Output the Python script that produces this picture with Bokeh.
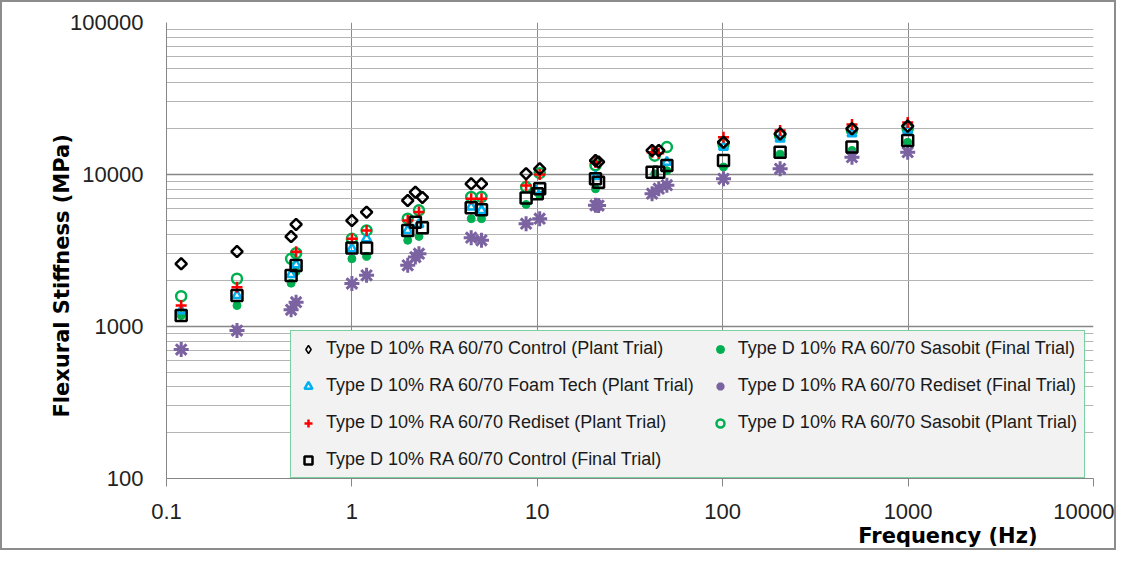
import math
from bokeh.plotting import figure
from bokeh.models import (Range1d, FixedTicker, CustomJSTickFormatter, Legend,
                          LegendItem, Title)
from bokeh.embed import file_html
from bokeh.resources import INLINE

# ---------------- data ----------------
ctrl_plant_f = [0.12, 0.24, 0.47, 0.50, 1.0, 1.2, 2.0, 2.2, 2.4, 4.4, 5.0, 8.7, 10.3,
                20.6, 21.4, 41.6, 45.2, 101, 204, 498, 995]
ctrl_plant_s = [2585, 3113, 3908, 4690, 4980, 5650, 6745, 7650, 7060, 8690, 8690, 10120, 10900,
                12360, 12100, 14390, 14390, 16300, 18500, 20000, 20800]

foam_plant_f = [0.12, 0.24, 0.47, 0.50, 1.0, 1.2, 2.0, 2.3, 4.4, 5.0, 9.8, 20.6, 50, 101, 204, 498, 995]
foam_plant_s = [1270, 1600, 2200, 2550, 3250, 3785, 4285, 4700, 6110, 5810, 7850, 9700, 12060,
                15140, 17170, 18540, 19500]

redi_plant_f = [0.12, 0.24, 0.50, 1.0, 1.2, 2.0, 2.3, 4.4, 5.0, 8.7, 10.3, 20.6, 41.6, 45.2,
                101, 204, 498, 995]
redi_plant_s = [1374, 1815, 3100, 3785, 4285, 4990, 5660, 6930, 6930, 8470, 10000, 12000, 14000,
                13800, 17600, 19470, 21300, 22000]

ctrl_final_f = [0.12, 0.24, 0.47, 0.50, 1.0, 1.2, 2.0, 2.2, 2.4, 4.4, 5.0, 8.7, 10.0, 10.3,
                20.6, 21.4, 41.6, 45.2, 50, 101, 204, 498, 995]
ctrl_final_s = [1181, 1600, 2166, 2519, 3280, 3290, 4285, 4860, 4470, 6050, 5870, 7000, 7480, 8070,
                9370, 8900, 10350, 10350, 11460, 12360, 14000, 15140, 16750]

saso_final_f = [0.12, 0.24, 0.47, 0.50, 1.0, 1.2, 2.0, 2.3, 4.4, 5.0, 8.7, 10.3, 20.6, 43, 50,
                101, 204, 498, 995]
saso_final_s = [1180, 1374, 1927, 2300, 2790, 2894, 3690, 3915, 5117, 5117, 6350, 7290, 8050,
                10100, 10600, 11200, 13600, 14400, 16300]

redi_final_f = [0.12, 0.24, 0.47, 0.50, 1.0, 1.2, 2.0, 2.2, 2.3, 4.4, 5.0, 8.7, 10.3, 20.6, 21.4,
                41.6, 45.2, 50, 101, 204, 498, 995]
redi_final_s = [705, 941, 1288, 1446, 1915, 2170, 2525, 2862, 3013, 3838, 3690, 4750, 5120, 6270,
                6250, 7480, 8070, 8500, 9370, 10900, 13000, 14030]

saso_plant_f = [0.12, 0.24, 0.47, 0.50, 1.0, 1.2, 2.0, 2.3, 4.4, 5.0, 8.7, 10.3, 20.6, 43, 50,
                101, 204, 498, 995]
saso_plant_s = [1582, 2061, 2786, 3034, 3776, 4285, 5120, 5810, 7110, 7110, 8260, 10200, 11500,
                13300, 15140, 15800, 18000, 19500, 20000]

x_ticks = [0.1, 1, 10, 100, 1000, 10000]
y_ticks = [100, 1000, 10000, 100000]

labels = {
    "ctrl_plant": "Type D 10% RA 60/70 Control (Plant Trial)",
    "foam_plant": "Type D 10% RA 60/70 Foam Tech (Plant Trial)",
    "redi_plant": "Type D 10% RA 60/70 Rediset (Plant Trial)",
    "ctrl_final": "Type D 10% RA 60/70 Control (Final Trial)",
    "saso_final": "Type D 10% RA 60/70 Sasobit (Final Trial)",
    "redi_final": "Type D 10% RA 60/70 Rediset (Final Trial)",
    "saso_plant": "Type D 10% RA 60/70 Sasobit (Plant Trial)",
}
x_title = "Frequency (Hz)"
y_title = "Flexural Stiffness (MPa)"

# ---------------- figure ----------------
p = figure(frame_width=927, frame_height=456, x_axis_type="log", y_axis_type="log",
           x_range=Range1d(0.1, 10000), y_range=Range1d(100, 100000),
           min_border_left=164, min_border_right=21, min_border_top=20, min_border_bottom=69,
           output_backend="svg", toolbar_location=None)
p.styles = {"border": "2px solid #8c8c8c"}
p.outline_line_color = None
p.background_fill_color = "white"
p.border_fill_color = "white"

minor_y = [k * 10 ** e for e in (2, 3, 4) for k in range(2, 10)]
p.xaxis.ticker = FixedTicker(ticks=x_ticks)
p.yaxis.ticker = FixedTicker(ticks=y_ticks, minor_ticks=minor_y)
p.xaxis.formatter = CustomJSTickFormatter(code="return tick.toString();")
p.yaxis.formatter = CustomJSTickFormatter(code="return tick.toString();")

for ax in (p.xaxis, p.yaxis):
    ax.axis_line_color = "#868686"
    ax.axis_line_width = 1
    ax.major_tick_line_color = "#868686"
    ax.minor_tick_line_color = None
    ax.major_label_text_font = "Liberation Sans"
    ax.major_label_text_font_size = "22px"
    ax.major_label_text_color = "#222222"
p.xaxis.major_tick_out = 8
p.xaxis.major_tick_in = 0
p.xaxis.major_label_standoff = 17
p.yaxis.major_tick_out = 0
p.yaxis.major_tick_in = 0
p.yaxis.major_label_standoff = 19

p.xgrid.grid_line_color = "#8c8c8c"
p.xgrid.grid_line_width = 1
p.ygrid.grid_line_color = "#868686"
p.ygrid.grid_line_width = 1.5
p.ygrid.minor_grid_line_color = "#b4b4b4"
p.ygrid.minor_grid_line_width = 1

# ---------------- series ----------------
r_saso_final = p.scatter(saso_final_f, saso_final_s, marker="circle", size=8,
                         fill_color="#00b050", line_color="#00b050")
r_saso_plant = p.scatter(saso_plant_f, saso_plant_s, marker="circle", size=10,
                         fill_color=None, line_color="#00b050", line_width=2.5)
r_redi_final = p.scatter(redi_final_f, redi_final_s, marker="asterisk", size=15,
                         line_color="#7b62a0", line_width=3)
r_foam_plant = p.scatter(foam_plant_f, foam_plant_s, marker="triangle", size=9,
                         fill_color=None, line_color="#00b0f0", line_width=2.5)
r_redi_plant = p.scatter(redi_plant_f, redi_plant_s, marker="cross", size=11,
                         line_color="#ff0000", line_width=2.5)
r_ctrl_plant = p.scatter(ctrl_plant_f, ctrl_plant_s, marker="square", size=8, angle=math.pi / 4,
                         fill_color=None, line_color="black", line_width=2.5)
r_ctrl_final = p.scatter(ctrl_final_f, ctrl_final_s, marker="square", size=11,
                         fill_color=None, line_color="black", line_width=2.5)
# legend-only twin of the diamond series (legend glyphs ignore the marker angle)
r_ctrl_plant_key = p.scatter(ctrl_plant_f, ctrl_plant_s, marker="diamond", size=12,
                             fill_color=None, line_color="black", line_width=1.5,
                             visible=False)

items = [
    LegendItem(label=labels["ctrl_plant"], renderers=[r_ctrl_plant_key]),
    LegendItem(label=labels["foam_plant"], renderers=[r_foam_plant]),
    LegendItem(label=labels["redi_plant"], renderers=[r_redi_plant]),
    LegendItem(label=labels["ctrl_final"], renderers=[r_ctrl_final]),
    LegendItem(label=labels["saso_final"], renderers=[r_saso_final]),
    LegendItem(label=labels["redi_final"], renderers=[r_redi_final]),
    LegendItem(label=labels["saso_plant"], renderers=[r_saso_plant]),
]
legend = Legend(items=items, ncols=2, location=(124, 0), margin=0, padding=7,
                spacing=16, glyph_width=20, glyph_height=20, label_height=20,
                label_standoff=8, label_text_font="Liberation Sans",
                label_text_font_size="18px", label_text_color="#1a1a1a",
                border_line_color="#00b050", border_line_width=1.5,
                background_fill_color="#f2f2f2", background_fill_alpha=1.0)
p.add_layout(legend, "center")

# ---------------- axis titles ----------------
ytitle = Title(text=y_title, align="left", offset=61, standoff=-13,
               text_font="DejaVu Sans", text_font_style="bold",
               text_font_size="21px", text_color="black")
xtitle = Title(text=x_title, align="right", offset=56, standoff=1,
               text_font="DejaVu Sans", text_font_style="bold",
               text_font_size="21px", text_color="black")
p.add_layout(ytitle, "left")
p.add_layout(xtitle, "below")

open("out.html", "w").write(file_html(p, INLINE))
